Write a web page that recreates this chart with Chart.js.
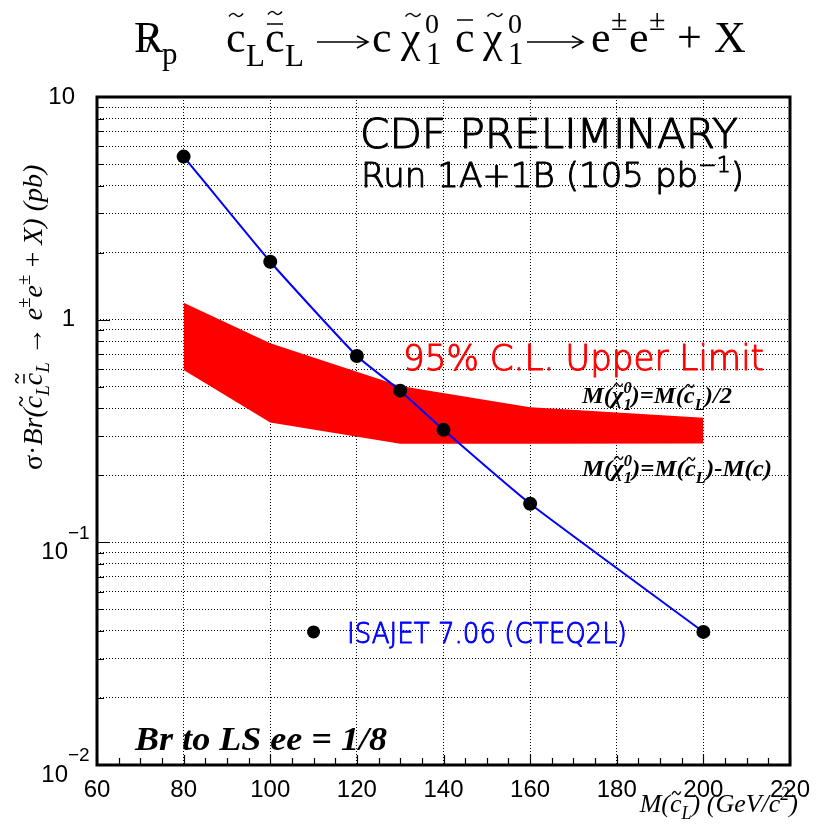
<!DOCTYPE html>
<html>
<head>
<meta charset="utf-8">
<script src="https://cdn.jsdelivr.net/npm/chart.js@4"></script>
<style>
  html, body { margin: 0; padding: 0; background: #fff; }
</style>
</head>
<body>
<canvas id="chart" width="826" height="824"></canvas>
<script>
/* ===== DATA ===== */
// ISAJET 7.06 (CTEQ2L) prediction, sigma*Br in pb
const MASSES = [80, 100, 120, 130, 140, 160, 200];
const XSEC = [5.4, 1.82, 0.687, 0.48, 0.32, 0.149, 0.0396];

// 95% C.L. upper limit band
const LIMIT_MASSES = [80, 100, 130, 160, 200];
const LIMIT_HALF = [1.19, 0.783, 0.504, 0.404, 0.363]; // M(chi)=M(c)/2
const LIMIT_DIFF = [0.594, 0.345, 0.277, 0.277, 0.278]; // M(chi)=M(c)-M(c)

// legend marker
const LEGEND_MASS = [110];
const LEGEND_XSEC = [0.0396];

/* ===== AXES ===== */
const X_TICKS = [60, 80, 100, 120, 140, 160, 180, 200, 220];
const X_MINOR_STEP = 5;
const Y_MAJOR = [0.01, 0.1, 1, 10];
const Y_LABELS = [["10", "-2"], ["10", "-1"], ["1", ""], ["10", ""]];
const Y_STEPS = [1, 2, 3, 4, 5, 6, 7, 8, 9];
const Y_GRID = [0.01, 0.1, 1]
  .flatMap((d) => Y_STEPS.map((s) => +(d * s).toPrecision(2)))
  .concat([10]);

const SERIF = '"Liberation Serif"';
const SANS = '"DejaVu Sans"';

/* ===== HELPERS ===== */
function tilde(ctx, cx, cy, w, color) {
  ctx.save();
  ctx.strokeStyle = color;
  ctx.lineWidth = 1.4;
  ctx.beginPath();
  ctx.moveTo(cx - w / 2, cy + 1.5);
  ctx.quadraticCurveTo(cx - w / 4, cy - 3.5, cx, cy);
  ctx.quadraticCurveTo(cx + w / 4, cy + 3.5, cx + w / 2, cy - 1.5);
  ctx.stroke();
  ctx.restore();
}

function bar(ctx, x1, x2, y, color) {
  ctx.save();
  ctx.strokeStyle = color;
  ctx.lineWidth = 1.5;
  ctx.beginPath();
  ctx.moveTo(x1, y);
  ctx.lineTo(x2, y);
  ctx.stroke();
  ctx.restore();
}

function arrow(ctx, x1, x2, y) {
  ctx.save();
  ctx.strokeStyle = "#000";
  ctx.lineWidth = 1.6;
  ctx.beginPath();
  ctx.moveTo(x1, y);
  ctx.lineTo(x2, y);
  ctx.moveTo(x2 - 11, y - 6);
  ctx.lineTo(x2, y);
  ctx.lineTo(x2 - 11, y + 6);
  ctx.stroke();
  ctx.restore();
}

// draws a run of text pieces (sub/superscripts, tildes, bars); returns width
function runParts(ctx, parts, family, x, y, color) {
  let cx = x;
  let prevX = x;
  let prevW = 0;
  parts.forEach((p) => {
    ctx.font = `${p.style || "normal"} ${p.size}px ${family}`;
    const w = ctx.measureText(p.t).width;
    const px = p.stack ? prevX : cx;
    if (color) {
      ctx.fillStyle = color;
      ctx.fillText(p.t, px, y + (p.dy || 0));
      if (p.stroke) {
        ctx.strokeStyle = color;
        ctx.lineWidth = p.stroke;
        ctx.lineJoin = "round";
        ctx.strokeText(p.t, px, y + (p.dy || 0));
      }
      if (p.tilde !== undefined) tilde(ctx, px + w * 0.55, y + p.tilde, w * 0.75, color);
      if (p.bar !== undefined) bar(ctx, px + w * 0.15, px + w * 0.9, y + p.bar, color);
    }
    if (p.stack) {
      cx = prevX + Math.max(prevW, w);
    } else {
      prevX = px;
      prevW = w;
      cx = px + w;
    }
  });
  return cx - x;
}

// same, squeezed or stretched horizontally to a given width
function fitParts(ctx, parts, family, x, y, width, color) {
  ctx.save();
  ctx.textAlign = "left";
  ctx.textBaseline = "alphabetic";
  const w = runParts(ctx, parts, family, 0, 0, null);
  ctx.translate(x, y);
  ctx.scale(width / w, 1);
  runParts(ctx, parts, family, 0, 0, color);
  ctx.restore();
}

function txt(ctx, s, x, y, font, color = "#000", align = "left", base = "alphabetic") {
  ctx.font = font;
  ctx.fillStyle = color;
  ctx.textAlign = align;
  ctx.textBaseline = base;
  ctx.fillText(s, x, y);
}

/* ===== TITLE ===== */
function drawTitle(ctx) {
  const big = `44px ${SERIF}`;
  const sub = `31px ${SERIF}`;
  const sup = `28px ${SERIF}`;
  const pm = `30px ${SERIF}`;
  txt(ctx, "R", 134, 52, big);
  txt(ctx, "/", 146, 52, `38px ${SERIF}`);
  txt(ctx, "p", 162, 64, sub);

  txt(ctx, "c", 226, 52, big);
  tilde(ctx, 236, 15, 14, "#000");
  txt(ctx, "L", 246, 66, sub);
  txt(ctx, "c", 265, 52, big);
  bar(ctx, 267, 283, 24, "#000");
  tilde(ctx, 275, 13, 14, "#000");
  txt(ctx, "L", 285, 66, sub);
  arrow(ctx, 317, 368, 42);

  txt(ctx, "c", 372, 52, big);
  txt(ctx, "χ", 401, 52, big);
  tilde(ctx, 413, 15, 15, "#000");
  txt(ctx, "0", 425, 33, sup);
  txt(ctx, "1", 426, 64, sub);
  txt(ctx, "c", 455, 52, big);
  bar(ctx, 457, 473, 20, "#000");
  txt(ctx, "χ", 483, 52, big);
  tilde(ctx, 495, 15, 15, "#000");
  txt(ctx, "0", 508, 33, sup);
  txt(ctx, "1", 508, 64, sub);
  arrow(ctx, 527, 583, 42);

  txt(ctx, "e", 591, 52, big);
  txt(ctx, "±", 611, 30, pm);
  txt(ctx, "e", 629, 52, big);
  txt(ctx, "±", 649, 30, pm);
  txt(ctx, "+", 677, 52, big);
  txt(ctx, "X", 714, 52, big);
}

/* ===== AXIS TITLES ===== */
const Y_TITLE = [
  { t: "σ·", size: 28 },
  { t: "Br(", size: 28, style: "italic" },
  { t: "c", size: 28, style: "italic", tilde: -21 },
  { t: "L", size: 19, style: "italic", dy: 7 },
  { t: "c", size: 28, style: "italic", tilde: -25, bar: -18 },
  { t: "L", size: 19, style: "italic", dy: 7 },
  { t: " → ", size: 28 },
  { t: "e", size: 28, style: "italic" },
  { t: "±", size: 19, dy: -12 },
  { t: "e", size: 28, style: "italic" },
  { t: "±", size: 19, dy: -12 },
  { t: " + ", size: 28 },
  { t: "X) (pb)", size: 28, style: "italic" },
];

const X_TITLE = [
  { t: "M(", size: 26, style: "italic" },
  { t: "c", size: 26, style: "italic", tilde: -19 },
  { t: "L", size: 18, style: "italic", dy: 7 },
  { t: ") (GeV/c", size: 26, style: "italic" },
  { t: "2", size: 18, style: "italic", dy: -12 },
  { t: ")", size: 26, style: "italic" },
];

const LABEL_HALF = [
  { t: "M(", size: 24, style: "italic bold" },
  { t: "χ", size: 24, style: "italic bold", tilde: -18 },
  { t: "0", size: 16, style: "italic bold", dy: -10 },
  { t: "1", size: 16, style: "italic bold", dy: 7, stack: true },
  { t: ")=M(", size: 24, style: "italic bold" },
  { t: "c", size: 24, style: "italic bold", tilde: -17 },
  { t: "L", size: 16, style: "italic bold", dy: 7 },
  { t: ")/2", size: 24, style: "italic bold" },
];

const LABEL_DIFF = LABEL_HALF.slice(0, 7).concat([
  { t: ")-M(c)", size: 24, style: "italic bold" },
]);

/* ===== DECORATION PLUGIN ===== */
const decor = {
  id: "decor",
  afterDraw(chart) {
    const { ctx, chartArea: a, scales } = chart;
    const xs = scales.x;
    const ys = scales.y;
    ctx.save();

    // inward ticks, bottom axis
    ctx.strokeStyle = "#000";
    ctx.lineWidth = 1.2;
    ctx.beginPath();
    for (let v = xs.min; v <= xs.max; v += X_MINOR_STEP) {
      const px = Math.round(xs.getPixelForValue(v)) + 0.5;
      const len = X_TICKS.includes(v) ? 10 : 7;
      ctx.moveTo(px, a.bottom);
      ctx.lineTo(px, a.bottom - len);
    }
    // inward ticks, left axis
    Y_GRID.forEach((v) => {
      const py = Math.round(ys.getPixelForValue(v)) + 0.5;
      const len = Y_MAJOR.includes(v) ? 13 : 7;
      ctx.moveTo(a.left, py);
      ctx.lineTo(a.left + len, py);
    });
    ctx.stroke();

    // frame
    ctx.lineWidth = 3;
    ctx.strokeRect(a.left, a.top, a.right - a.left, a.bottom - a.top);

    // x tick labels
    X_TICKS.forEach((v) => {
      txt(ctx, String(v), xs.getPixelForValue(v), 778, `24px "Liberation Sans"`, "#000", "center", "top");
    });

    // y tick labels
    Y_MAJOR.forEach((v, i) => {
      const py = ys.getPixelForValue(v);
      const [base, exp] = Y_LABELS[i];
      if (!exp) {
        txt(ctx, base, 75, py, `24px "Liberation Sans"`, "#000", "right", "middle");
      } else {
        txt(ctx, base, 68, py + 10, `24px "Liberation Sans"`, "#000", "right", "middle");
        txt(ctx, exp.replace("-", "\u2212"), 68, py - 9, `19px "Liberation Sans"`, "#000", "left", "middle");
      }
    });

    drawTitle(ctx);

    // y title, rotated
    ctx.save();
    ctx.translate(42, 470);
    ctx.rotate(-Math.PI / 2);
    ctx.textAlign = "left";
    ctx.textBaseline = "alphabetic";
    runParts(ctx, Y_TITLE, SERIF, 0, 0, "#000");
    ctx.restore();

    // x title, right aligned
    ctx.textAlign = "left";
    ctx.textBaseline = "alphabetic";
    const xw = runParts(ctx, X_TITLE, SERIF, 0, 0, null);
    runParts(ctx, X_TITLE, SERIF, 798 - xw, 812, "#000");

    // annotations (thin sans, thickened a little)
    fitParts(ctx, [{ t: "CDF PRELIMINARY", size: 41, style: "200", stroke: 1.1 }], SANS, 360, 148, 378, "#000");
    fitParts(ctx, [
      { t: "Run 1A+1B (105 pb", size: 34, style: "200", stroke: 1 },
      { t: "\u22121", size: 22, style: "200", dy: -15, stroke: 1 },
      { t: ")", size: 34, style: "200", stroke: 1 },
    ], SANS, 361, 187, 383, "#000");
    fitParts(ctx, [{ t: "95% C.L. Upper Limit", size: 35, style: "200", stroke: 1 }], SANS, 403, 370, 361, "#ff0000");
    fitParts(ctx, LABEL_HALF, SERIF, 582, 403, 150, "#000");
    fitParts(ctx, LABEL_DIFF, SERIF, 582, 476, 190, "#000");
    fitParts(ctx, [{ t: "ISAJET 7.06 (CTEQ2L)", size: 29, style: "200", stroke: 1 }], SANS, 347, 643, 280, "#0000ff");
    fitParts(ctx, [{ t: "Br to LS ee = 1/8", size: 33, style: "italic bold" }], SERIF, 135, 750, 252, "#000");

    ctx.restore();
  },
};

/* ===== CHART ===== */
const toPoints = (xs, ys) => xs.map((x, i) => ({ x, y: ys[i] }));

const chart = new Chart(document.getElementById("chart"), {
  type: "line",
  data: {
    datasets: [
      {
        data: toPoints(MASSES, XSEC),
        borderColor: "#0000ff",
        borderWidth: 2,
        tension: 0.15,
        pointRadius: 7,
        pointBackgroundColor: "#000",
        pointBorderWidth: 0,
        fill: false,
      },
      {
        data: toPoints(LEGEND_MASS, LEGEND_XSEC),
        showLine: false,
        pointRadius: 6.5,
        pointBackgroundColor: "#000",
        pointBorderWidth: 0,
        fill: false,
      },
      {
        data: toPoints(LIMIT_MASSES, LIMIT_HALF),
        borderWidth: 0,
        borderColor: "rgba(0,0,0,0)",
        backgroundColor: "#ff0000",
        pointRadius: 0,
        tension: 0,
        fill: "+1",
      },
      {
        data: toPoints(LIMIT_MASSES, LIMIT_DIFF),
        borderWidth: 0,
        borderColor: "rgba(0,0,0,0)",
        pointRadius: 0,
        tension: 0,
        fill: false,
      },
    ],
  },
  options: {
    responsive: false,
    animation: false,
    layout: { padding: { left: 97, right: 36, top: 97, bottom: 59 } },
    plugins: { legend: { display: false }, tooltip: { enabled: false } },
    scales: {
      x: {
        type: "linear",
        min: 60,
        max: 220,
        afterBuildTicks: (s) => (s.ticks = X_TICKS.map((v) => ({ value: v }))),
        ticks: { display: false },
        grid: { color: "#000", lineWidth: 1, drawTicks: false },
        border: { display: false, dash: [1, 2] },
      },
      y: {
        type: "logarithmic",
        min: 0.01,
        max: 10,
        afterBuildTicks: (s) => (s.ticks = Y_GRID.map((v) => ({ value: v }))),
        ticks: { display: false },
        grid: { color: "#000", lineWidth: 1, drawTicks: false },
        border: { display: false, dash: [1, 2] },
      },
    },
  },
  plugins: [decor],
});
</script>
</body>
</html>
